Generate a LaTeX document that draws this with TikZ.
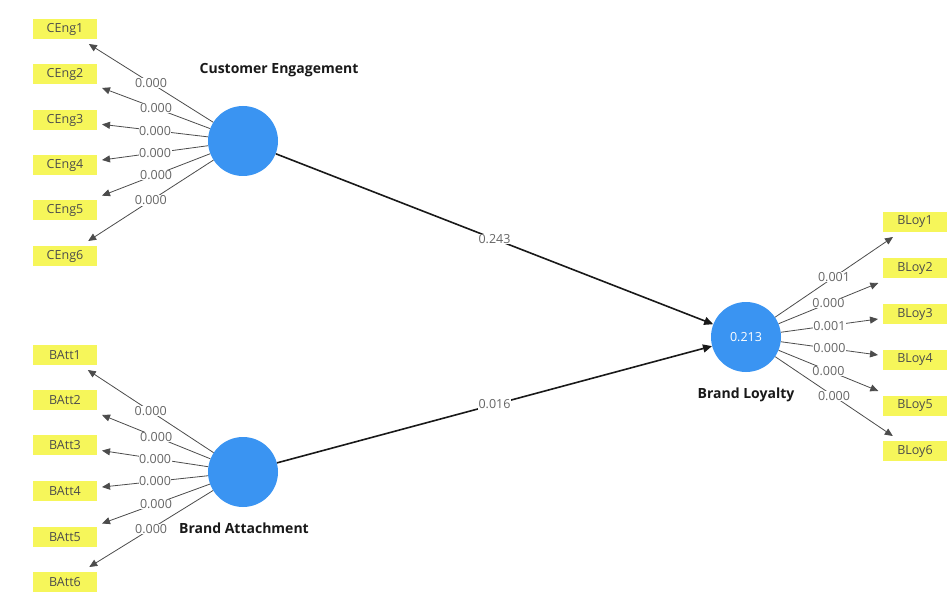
\documentclass[tikz,border=0pt]{standalone}
\usepackage{fontspec}
\setmainfont{Open Sans}
\usetikzlibrary{arrows.meta}
\definecolor{lv}{RGB}{58,148,242}
\definecolor{ind}{RGB}{246,246,90}
\begin{document}
\begin{tikzpicture}[x=1pt,y=-1pt,
 indbox/.style={fill=ind, minimum width=64pt, minimum height=20pt, inner sep=0pt, font=\fontsize{12.5}{13}\selectfont, text=black!70, outer sep=5pt},
 lvcirc/.style={circle, fill=lv, minimum size=70pt, inner sep=0pt},
 loadarr/.style={draw=black!70, line width=0.8pt, -{Triangle[length=8pt,width=7pt]}},
 patharr/.style={draw=black!90, line width=1.6pt, -{Triangle[length=9pt,width=8pt]}},
 wlab/.style={fill=white, inner sep=0.5pt, font=\fontsize{12.5}{13}\selectfont, text=black!60},
 lvlab/.style={font=\bfseries\fontsize{14}{16}\selectfont, text=black!90}
]
\useasboundingbox (0,0) rectangle (948,596);
\fill[white] (0,0) rectangle (948,596);

% latent variables
\node[lvcirc] (ce) at (243,141) {};
\node[lvcirc] (ba) at (243,472) {};
\node[lvcirc, text=white, font=\fontsize{12.5}{13}\selectfont] (bl) at (746,337) {0.213};
\node[lvlab] (cel) at (279,70) {Customer Engagement};
\node[lvlab] (bal) at (244,528) {Brand Attachment};
\node[lvlab] (bll) at (746,395) {Brand Loyalty};

% indicators
\foreach \i/\y in {1/29,2/74,3/120,4/165,5/210,6/256}
  \node[indbox] (c\i) at (65,\y) {CEng\i};
\foreach \i/\y in {1/355,2/400,3/445,4/491,5/537,6/582}
  \node[indbox] (a\i) at (65,\y) {BAtt\i};
\foreach \i/\y in {1/222,2/268,3/314,4/360,5/406,6/451}
  \node[indbox] (l\i) at (915,\y) {BLoy\i};

% outer loadings
\draw[loadarr] (ce) -- node[wlab,pos=0.5] (wc1) {0.000} (c1);
\draw[loadarr] (ce) -- node[wlab,pos=0.5] (wc2) {0.000} (c2);
\draw[loadarr] (ce) -- node[wlab,pos=0.5] (wc3) {0.000} (c3);
\draw[loadarr] (ce) -- node[wlab,pos=0.5] (wc4) {0.000} (c4);
\draw[loadarr] (ce) -- node[wlab,pos=0.5] (wc5) {0.000} (c5);
\draw[loadarr] (ce) -- node[wlab,pos=0.5] (wc6) {0.000} (c6);

\draw[loadarr] (ba) -- node[wlab,pos=0.5] (wa1) {0.000} (a1);
\draw[loadarr] (ba) -- node[wlab,pos=0.5] (wa2) {0.000} (a2);
\draw[loadarr] (ba) -- node[wlab,pos=0.5] (wa3) {0.000} (a3);
\draw[loadarr] (ba) -- node[wlab,pos=0.5] (wa4) {0.000} (a4);
\draw[loadarr] (ba) -- node[wlab,pos=0.5] (wa5) {0.000} (a5);
\draw[loadarr] (ba) -- node[wlab,pos=0.5] (wa6) {0.000} (a6);

\draw[loadarr] (bl) -- node[wlab,pos=0.5] (wl1) {0.001} (l1);
\draw[loadarr] (bl) -- node[wlab,pos=0.5] (wl2) {0.000} (l2);
\draw[loadarr] (bl) -- node[wlab,pos=0.5] (wl3) {0.001} (l3);
\draw[loadarr] (bl) -- node[wlab,pos=0.5] (wl4) {0.000} (l4);
\draw[loadarr] (bl) -- node[wlab,pos=0.5] (wl5) {0.000} (l5);
\draw[loadarr] (bl) -- node[wlab,pos=0.5] (wl6) {0.000} (l6);

% inner paths
\draw[patharr] (ce) -- node[wlab,pos=0.5] (p1) {0.243} (bl);
\draw[patharr] (ba) -- node[wlab,pos=0.5] (p2) {0.016} (bl);
\end{tikzpicture}
\end{document}
